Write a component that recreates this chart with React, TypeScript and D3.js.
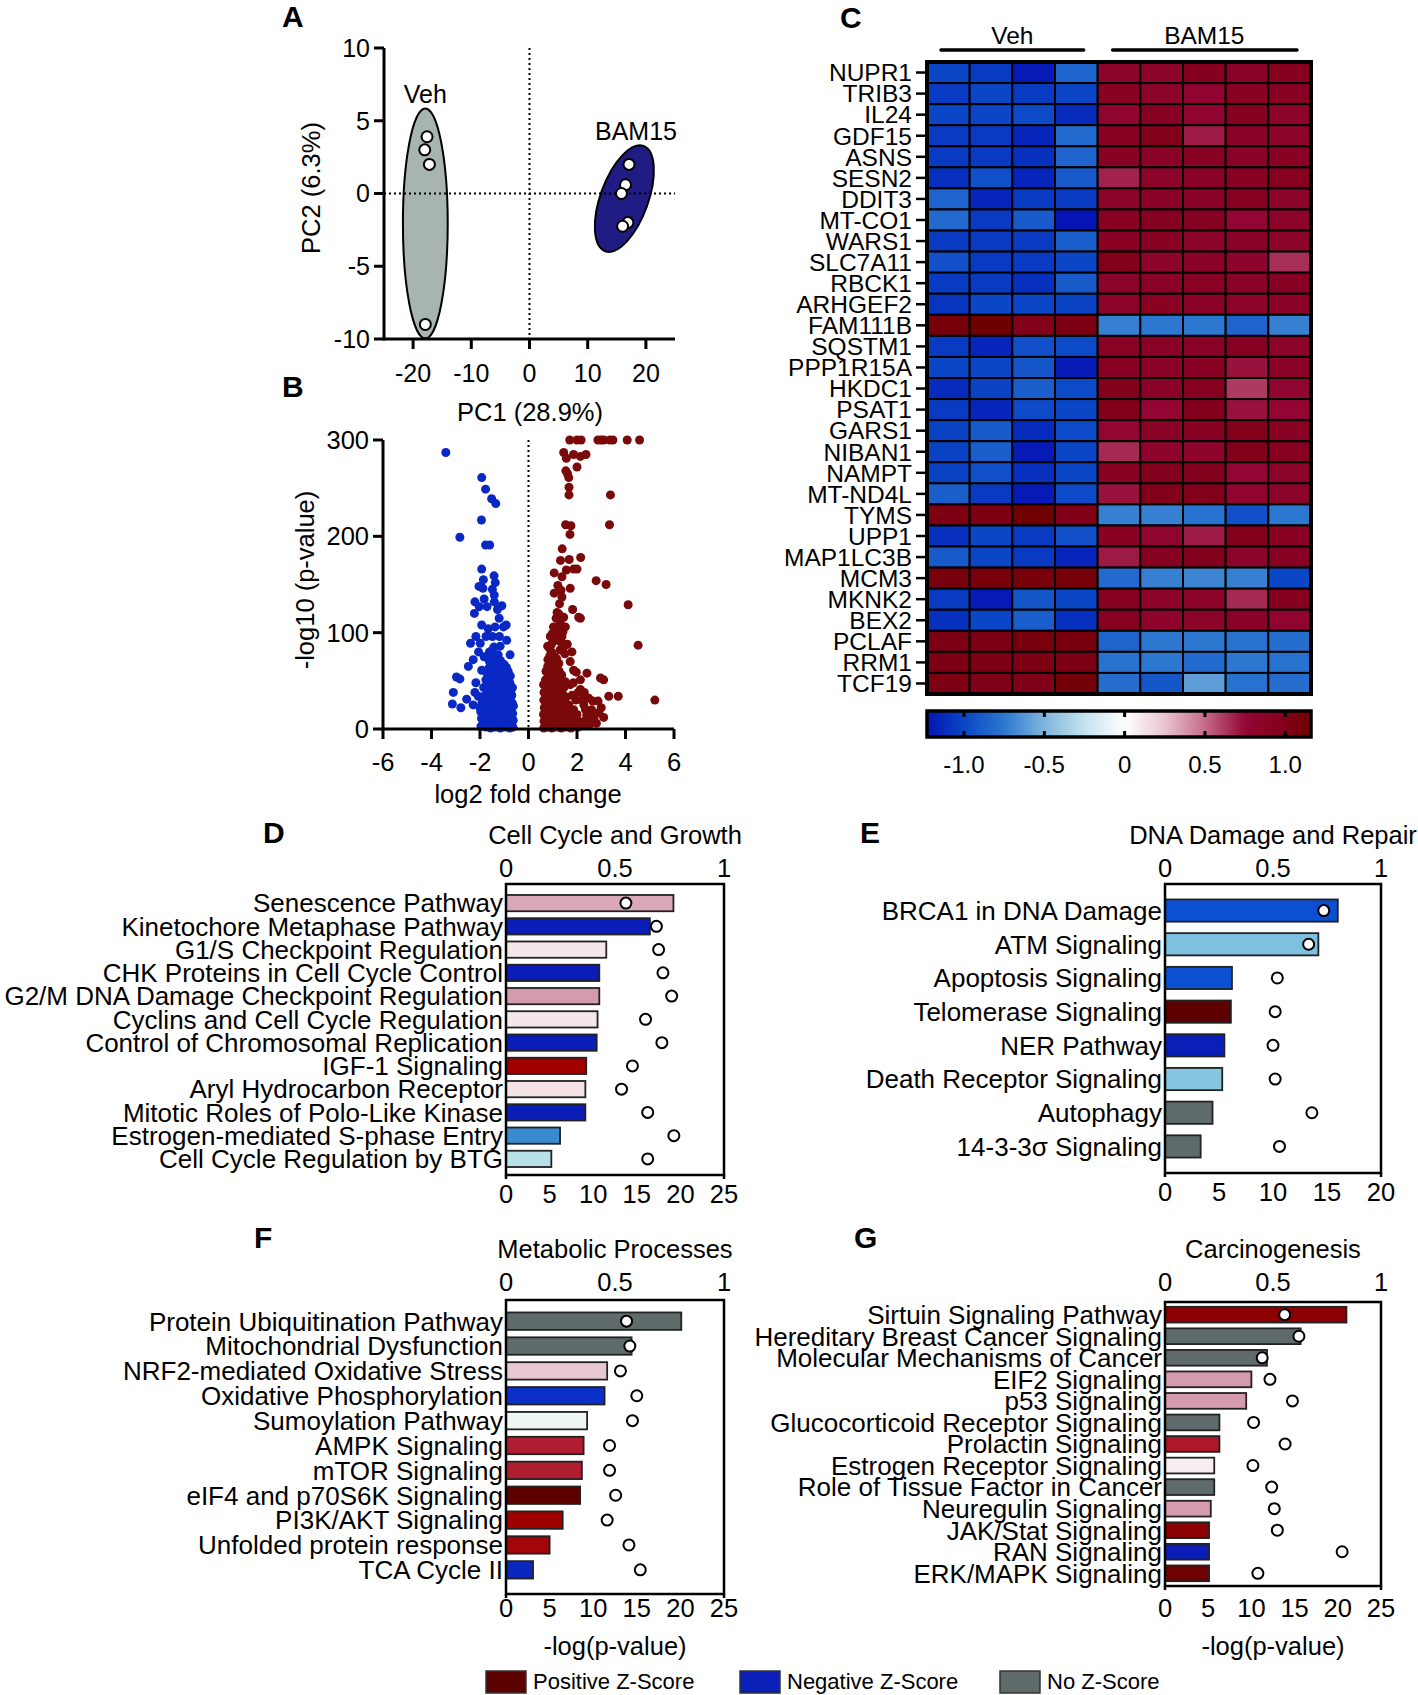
import * as d3 from 'd3';

const FONT = '"Liberation Sans", Arial, Helvetica, sans-serif';

// ---------- A: PCA ----------
const pcaVeh: [number, number][] = [[-17.6, 3.9], [-18.0, 3.0], [-17.2, 2.0], [-17.9, -9.0]];
const pcaBam: [number, number][] = [[17.1, 2.0], [16.5, 0.6], [15.8, 0.0], [16.9, -2.0], [16.0, -2.25]];
const vehEllipse = { cx: -17.9, cy: -2.06, rx: 3.85, ry: 7.9, rotate: 0 };
const bamEllipse = { cx: 16.3, cy: -0.35, rx: 4.1, ry: 3.85, rotate: 20 };
const pcaXTicks = [-20, -10, 0, 10, 20];
const pcaYTicks = [-10, -5, 0, 5, 10];

// ---------- B: volcano ----------
const volcanoDown: [number, number][] = [
  [-3.41, 287], [-1.93, 261], [-1.77, 249], [-1.52, 239], [-1.35, 234], [-1.94, 217], [-2.83, 199], [-1.77, 191],
  [-1.6, 191], [-1.93, 166], [-1.42, 159], [-1.86, 155], [-1.37, 152], [-2.04, 148], [-1.88, 146], [-1.49, 145],
  [-1.41, 139], [-2.21, 132], [-1.83, 135], [-2.03, 127], [-1.71, 127], [-1.41, 132], [-1.1, 128], [-1.28, 124],
  [-2.23, 120], [-1.21, 115], [-1.93, 108], [-1.66, 104], [-1.38, 106], [-1.03, 106], [-0.92, 108], [-2.17, 96],
  [-1.75, 96], [-1.49, 96], [-2.39, 89], [-1.99, 89], [-1.2, 96], [-0.9, 92], [-2.06, 80], [-1.61, 80], [-1.17, 86],
  [-2.28, 72], [-1.83, 75], [-0.76, 77], [-2.48, 65], [-1.93, 61], [-2.97, 54], [-2.83, 52], [-2.17, 48], [-3.1, 38],
  [-2.21, 38], [-2.55, 31], [-3.14, 26], [-2.79, 22], [-2.28, 25], [-2.07, 34], [-2.0, 22],
  [-1.96, 3], [-1.94, 11], [-1.97, 18], [-1.92, 27],
  [-1.86, 6], [-1.84, 15], [-1.87, 24], [-1.83, 34], [-1.85, 43],
  [-1.76, 2], [-1.74, 10], [-1.77, 18], [-1.73, 26], [-1.75, 34], [-1.72, 42], [-1.76, 51], [-1.74, 59],
  [-1.66, 4], [-1.64, 12], [-1.67, 21], [-1.63, 29], [-1.65, 37], [-1.62, 45], [-1.66, 53], [-1.64, 63], [-1.61, 70],
  [-1.56, 1], [-1.54, 8], [-1.57, 16], [-1.53, 25], [-1.55, 32], [-1.52, 40], [-1.56, 48], [-1.54, 57], [-1.51, 64],
  [-1.55, 73], [-1.53, 81],
  [-1.46, 3], [-1.44, 11], [-1.47, 19], [-1.43, 27], [-1.45, 36], [-1.42, 43], [-1.46, 51], [-1.44, 60], [-1.41, 67],
  [-1.45, 76], [-1.43, 85],
  [-1.36, 2], [-1.34, 9], [-1.37, 17], [-1.33, 26], [-1.35, 33], [-1.32, 41], [-1.36, 50], [-1.34, 57], [-1.31, 65], [-1.35, 74],
  [-1.26, 4], [-1.24, 12], [-1.27, 20], [-1.23, 28], [-1.25, 37], [-1.22, 44], [-1.26, 52], [-1.24, 61], [-1.21, 68], [-1.25, 77],
  [-1.16, 1], [-1.14, 8], [-1.17, 16], [-1.13, 25], [-1.15, 32], [-1.12, 40], [-1.16, 49], [-1.14, 56], [-1.11, 64], [-1.15, 71],
  [-1.06, 3], [-1.04, 11], [-1.07, 19], [-1.03, 28], [-1.05, 35], [-1.02, 43], [-1.06, 51], [-1.04, 60], [-1.01, 67],
  [-0.96, 2], [-0.94, 9], [-0.97, 17], [-0.93, 26], [-0.95, 33], [-0.92, 41], [-0.96, 49], [-0.94, 57], [-0.91, 64],
  [-0.86, 4], [-0.84, 12], [-0.87, 20], [-0.83, 28], [-0.85, 37], [-0.82, 44], [-0.86, 52], [-0.84, 60],
  [-0.77, 1], [-0.75, 8], [-0.78, 16], [-0.74, 25], [-0.76, 32], [-0.73, 40], [-0.77, 48], [-0.75, 55],
  [-0.7, 3], [-0.68, 11], [-0.71, 19], [-0.67, 27], [-0.69, 35], [-0.66, 43],
  [-0.64, 2], [-0.63, 9], [-0.65, 16], [-0.62, 24],
];

const volcanoUp: [number, number][] = [
  [1.7, 300], [2.0, 300], [2.17, 300], [2.86, 300], [2.99, 300], [3.1, 300], [3.35, 300], [3.48, 300], [4.07, 300], [4.58, 300],
  [1.45, 287], [1.56, 281], [1.86, 285], [2.14, 283], [2.37, 285], [1.54, 268], [1.61, 265], [2.0, 272], [1.66, 261], [1.67, 251],
  [1.67, 243], [3.38, 243], [1.53, 212], [1.75, 211], [3.34, 212], [1.71, 202], [1.39, 187], [1.32, 175], [1.68, 176], [2.15, 178],
  [1.56, 165], [1.86, 166], [2.0, 166], [1.06, 162], [1.38, 158], [2.79, 154], [3.2, 150], [1.21, 149], [1.34, 144], [1.72, 146],
  [1.06, 141], [1.38, 137], [1.28, 130], [4.11, 129], [1.82, 124], [1.14, 115], [1.45, 116], [2.07, 116], [2.14, 115], [1.03, 106],
  [1.31, 110], [1.52, 106], [0.9, 96], [1.38, 96], [0.79, 86], [1.48, 86], [4.52, 87], [1.79, 80], [1.72, 70], [1.86, 61],
  [1.97, 59], [2.41, 58], [2.14, 51], [2.97, 53], [3.1, 51], [1.52, 49], [1.72, 46], [2.14, 41], [2.48, 32], [2.65, 29],
  [2.87, 29], [3.31, 34], [3.7, 34], [5.21, 30], [2.28, 25], [2.9, 17], [2.55, 10], [2.0, 15], [1.86, 20], [1.66, 25],
  [1.18, 121], [1.26, 119], [1.12, 101], [1.22, 104], [0.98, 99], [1.42, 101], [1.35, 90], [1.6, 88], [1.5, 78], [1.2, 92],
  [0.95, 88], [1.3, 82],
  [0.63, 1], [0.64, 8], [0.62, 15], [0.65, 22], [0.63, 30], [0.64, 38], [0.62, 46],
  [0.71, 3], [0.72, 11], [0.7, 19], [0.73, 27], [0.71, 35], [0.72, 43], [0.7, 51], [0.72, 60],
  [0.79, 2], [0.8, 9], [0.78, 17], [0.81, 25], [0.79, 33], [0.8, 41], [0.78, 49], [0.81, 57], [0.79, 65], [0.8, 72],
  [0.87, 4], [0.88, 12], [0.86, 20], [0.89, 28], [0.87, 36], [0.88, 44], [0.86, 52], [0.89, 60], [0.87, 68], [0.88, 76], [0.86, 84],
  [0.96, 1], [0.97, 8], [0.95, 16], [0.98, 24], [0.96, 32], [0.97, 40], [0.95, 48], [0.98, 56], [0.96, 64], [0.97, 72], [0.95, 80],
  [1.05, 3], [1.06, 11], [1.04, 19], [1.07, 27], [1.05, 35], [1.06, 43], [1.04, 51], [1.07, 59], [1.05, 67], [1.06, 75],
  [1.15, 2], [1.16, 9], [1.14, 17], [1.17, 25], [1.15, 33], [1.16, 41], [1.14, 49], [1.17, 57], [1.15, 65], [1.16, 73],
  [1.25, 4], [1.26, 12], [1.24, 20], [1.27, 28], [1.25, 36], [1.26, 44], [1.24, 52], [1.27, 60], [1.25, 68],
  [1.35, 1], [1.36, 8], [1.34, 16], [1.37, 24], [1.35, 32], [1.36, 40], [1.34, 48], [1.37, 56],
  [1.45, 3], [1.46, 11], [1.44, 19], [1.47, 27], [1.45, 35], [1.46, 43],
  [1.55, 2], [1.56, 9], [1.54, 17], [1.57, 25], [1.55, 33],
  [1.65, 4], [1.66, 12], [1.64, 20],
  [1.75, 1], [1.76, 8], [1.74, 15],
  [1.9, 3], [1.91, 10], [2.05, 2], [2.06, 8], [2.2, 4],
  [2.3, 8], [2.4, 14], [2.6, 20], [2.7, 12], [2.35, 20], [2.5, 4], [2.8, 6], [3.0, 22], [3.1, 12], [2.2, 30],
  [2.3, 38], [1.95, 30], [2.05, 38], [1.8, 35], [1.85, 48],
];
const volXTicks = [-6, -4, -2, 0, 2, 4, 6];
const volYTicks = [0, 100, 200, 300];

// ---------- C: heatmap ----------
const genes = ['NUPR1', 'TRIB3', 'IL24', 'GDF15', 'ASNS', 'SESN2', 'DDIT3', 'MT-CO1', 'WARS1', 'SLC7A11', 'RBCK1',
  'ARHGEF2', 'FAM111B', 'SQSTM1', 'PPP1R15A', 'HKDC1', 'PSAT1', 'GARS1', 'NIBAN1', 'NAMPT', 'MT-ND4L', 'TYMS', 'UPP1',
  'MAP1LC3B', 'MCM3', 'MKNK2', 'BEX2', 'PCLAF', 'RRM1', 'TCF19'];
const vehSamples = ['V1', 'V2', 'V3', 'V4'];
const bamSamples = ['B1', 'B2', 'B3', 'B4', 'B5'];
const vehZ = [
  [-1.0, -1.05, -1.2, -0.85], [-1.05, -1.0, -1.05, -1.0], [-1.0, -1.0, -0.98, -1.12], [-1.05, -1.05, -1.15, -0.82],
  [-1.05, -1.05, -1.1, -0.85], [-1.1, -0.95, -1.15, -0.9], [-0.85, -1.15, -1.05, -1.05], [-0.82, -1.05, -0.9, -1.25],
  [-1.05, -1.05, -1.05, -0.88], [-0.95, -1.05, -1.05, -1.0], [-1.05, -1.05, -1.1, -0.9], [-1.08, -1.0, -1.0, -1.02],
  [1.1, 1.15, 1.0, 1.05], [-1.05, -1.15, -0.95, -0.98], [-1.0, -1.0, -0.92, -1.2], [-1.12, -1.02, -0.88, -0.98],
  [-1.05, -1.15, -0.98, -1.0], [-1.02, -0.9, -1.12, -0.98], [-1.02, -0.88, -1.2, -1.0], [-1.02, -0.95, -1.1, -1.0],
  [-0.88, -1.05, -1.2, -0.98], [1.05, 1.05, 1.15, 1.02], [-1.1, -1.0, -1.05, -0.95], [-0.9, -1.0, -1.05, -1.15],
  [1.08, 1.08, 1.08, 1.1], [-1.05, -1.2, -0.92, -1.0], [-1.1, -1.0, -0.88, -1.1], [1.05, 1.05, 1.08, 1.08],
  [1.05, 1.05, 1.05, 1.05], [1.05, 1.02, 1.02, 1.12],
];
const bamZ = [
  [0.85, 0.85, 0.95, 0.88, 0.95], [0.9, 0.85, 0.8, 0.9, 0.92], [0.8, 0.92, 0.8, 0.95, 0.85], [0.9, 1.0, 0.7, 0.88, 0.85],
  [0.9, 0.88, 0.9, 0.88, 0.9], [0.68, 0.85, 0.88, 0.9, 0.95], [0.85, 0.88, 0.88, 0.92, 0.85], [0.9, 0.95, 0.92, 0.75, 0.85],
  [0.9, 0.9, 0.85, 0.88, 0.85], [1.0, 0.85, 0.88, 0.82, 0.65], [0.85, 0.88, 0.9, 0.88, 0.92], [0.85, 0.9, 0.88, 0.85, 0.88],
  [-0.72, -0.75, -0.75, -0.85, -0.72], [0.9, 0.88, 0.88, 0.92, 0.85], [0.92, 0.88, 0.9, 0.72, 0.88], [1.0, 0.88, 0.95, 0.62, 0.78],
  [1.0, 0.75, 0.98, 0.72, 0.75], [0.75, 0.88, 0.9, 1.0, 0.9], [0.66, 0.82, 0.82, 1.0, 0.95], [0.9, 0.98, 0.98, 0.75, 0.85],
  [0.72, 1.0, 1.0, 0.8, 0.85], [-0.72, -0.72, -0.78, -0.95, -0.75], [0.9, 0.8, 0.7, 0.98, 0.9], [0.7, 0.95, 0.98, 0.85, 0.92],
  [-0.82, -0.72, -0.7, -0.72, -1.0], [0.92, 0.85, 0.85, 0.66, 0.95], [0.95, 0.82, 0.85, 0.88, 0.8], [-0.85, -0.75, -0.75, -0.78, -0.8],
  [-0.78, -0.75, -0.82, -0.75, -0.78], [-0.8, -0.92, -0.6, -0.78, -0.8],
];
const heatTicks = [-1.0, -0.5, 0, 0.5, 1.0];
const heatTickLabels = ['-1.0', '-0.5', '0', '0.5', '1.0'];

// ---------- D-G: pathway enrichment ----------
const dLabels = ['Senescence Pathway', 'Kinetochore Metaphase Pathway', 'G1/S Checkpoint Regulation',
  'CHK Proteins in Cell Cycle Control', 'G2/M DNA Damage Checkpoint Regulation', 'Cyclins and Cell Cycle Regulation',
  'Control of Chromosomal Replication', 'IGF-1 Signaling', 'Aryl Hydrocarbon Receptor', 'Mitotic Roles of Polo-Like Kinase',
  'Estrogen-mediated S-phase Entry', 'Cell Cycle Regulation by BTG'];
const dLogP = [19.2, 16.5, 11.5, 10.7, 10.7, 10.5, 10.4, 9.2, 9.1, 9.1, 6.2, 5.2];
const dRatio = [0.55, 0.69, 0.7, 0.72, 0.76, 0.64, 0.715, 0.58, 0.53, 0.65, 0.77, 0.65];
const dZ: (number | null)[] = [1.2, -3.5, 0.3, -3.5, 1.3, 0.3, -3.5, 2.6, 0.35, -3.5, -2.2, -1.0];

const eLabels = ['BRCA1 in DNA Damage', 'ATM Signaling', 'Apoptosis Signaling', 'Telomerase Signaling', 'NER Pathway',
  'Death Receptor Signaling', 'Autophagy', '14-3-3σ Signaling'];
const eLogP = [16.0, 14.2, 6.2, 6.1, 5.5, 5.3, 4.4, 3.3];
const eRatio = [0.735, 0.665, 0.52, 0.51, 0.5, 0.51, 0.68, 0.53];
const eZ: (number | null)[] = [-2.6, -1.6, -2.6, 3.8, -3.4, -1.5, null, null];

const fLabels = ['Protein Ubiquitination Pathway', 'Mitochondrial Dysfunction', 'NRF2-mediated Oxidative Stress',
  'Oxidative Phosphorylation', 'Sumoylation Pathway', 'AMPK Signaling', 'mTOR Signaling', 'eIF4 and p70S6K Signaling',
  'PI3K/AKT Signaling', 'Unfolded protein response', 'TCA Cycle II'];
const fLogP = [20.1, 14.4, 11.6, 11.3, 9.3, 8.9, 8.7, 8.5, 6.5, 5.0, 3.1];
const fRatio = [0.553, 0.568, 0.525, 0.6, 0.58, 0.475, 0.475, 0.503, 0.464, 0.564, 0.616];
const fZ: (number | null)[] = [null, null, 0.9, -3.0, -0.3, 2.0, 2.0, 3.8, 2.6, 2.5, -3.2];

const gLabels = ['Sirtuin Signaling Pathway', 'Hereditary Breast Cancer Signaling', 'Molecular Mechanisms of Cancer',
  'EIF2 Signaling', 'p53 Signaling', 'Glucocorticoid Receptor Signaling', 'Prolactin Signaling',
  'Estrogen Receptor Signaling', 'Role of Tissue Factor in Cancer', 'Neuregulin Signaling', 'JAK/Stat Signaling',
  'RAN Signaling', 'ERK/MAPK Signaling'];
const gLogP = [21.0, 15.7, 11.8, 10.0, 9.4, 6.3, 6.3, 5.7, 5.7, 5.3, 5.1, 5.1, 5.1];
const gRatio = [0.554, 0.62, 0.45, 0.486, 0.59, 0.41, 0.556, 0.407, 0.494, 0.506, 0.52, 0.82, 0.43];
const gZ: (number | null)[] = [3.0, null, null, 1.3, 1.3, null, 2.1, 0.2, null, 1.3, 3.0, -3.6, 3.6];

const ratioTicks = [0, 0.5, 1];
const legendItems: { label: string; z: number | null }[] = [
  { label: 'Positive Z-Score', z: 3.8 },
  { label: 'Negative Z-Score', z: -3.4 },
  { label: 'No Z-Score', z: null },
];

// colour scales
const heatColor = d3.scaleLinear<string>()
  .domain([-1.23, -1.0, -0.75, -0.5, -0.25, 0, 0.25, 0.5, 0.75, 1.0, 1.16])
  .range(['#0514b4', '#0a46c6', '#2c78d0', '#7fb6dc', '#c4e2ee', '#ffffff', '#e8c4d0', '#c46a8a', '#930634', '#82001a', '#6e0000'])
  .clamp(true);

const zScale = d3.scaleLinear<string>()
  .domain([-4, -3.4, -3.0, -2.6, -2.2, -1.6, -1.0, -0.3, 0, 0.3, 0.9, 1.25, 2.0, 2.6, 3.0, 3.6, 3.8])
  .range(['#0a1ab4', '#0a1fb8', '#0a30c8', '#0a50d0', '#3a8ad0', '#7ec0e0', '#b8e0e8', '#eef6f4', '#ffffff',
    '#f5e6ea', '#e8c8d0', '#d6a4b6', '#b01c30', '#a00000', '#8b0000', '#700000', '#5c0000'])
  .clamp(true);
const zColor = (z: number | null) => (z === null ? '#5f6b6b' : zScale(z));

const PanelLetter = ({ x, y, t }: { x: number; y: number; t: string }) => (
  <text x={x} y={y} fontSize={30} fontWeight="bold" fontFamily={FONT}>{t}</text>
);

const PcaPanel = () => {
  const x = d3.scaleLinear().domain([-25, 25]).range([384, 675]);
  const y = d3.scaleLinear().domain([-10, 10]).range([339, 48]);
  const ell = (e: typeof vehEllipse, fill: string) => {
    const cx = x(e.cx);
    const cy = y(e.cy);
    const rx = x(e.cx + e.rx) - cx;
    const ry = cy - y(e.cy + e.ry);
    return <ellipse cx={cx} cy={cy} rx={rx} ry={ry} transform={`rotate(${e.rotate},${cx},${cy})`}
      fill={fill} stroke="#000" strokeWidth={2} />;
  };
  return (
    <g fontFamily={FONT}>
      <PanelLetter x={282} y={27} t="A" />
      {ell(vehEllipse, '#a7b4af')}
      {ell(bamEllipse, '#211c84')}
      <line x1={x(0)} x2={x(0)} y1={y(10)} y2={y(-10)} stroke="#000" strokeWidth={2} strokeDasharray="2,3" />
      <line x1={x(-25)} x2={x(25)} y1={y(0)} y2={y(0)} stroke="#000" strokeWidth={2} strokeDasharray="2,3" />
      {[...pcaVeh, ...pcaBam].map((p, i) => (
        <circle key={i} cx={x(p[0])} cy={y(p[1])} r={5.5} fill="#fff" stroke="#000" strokeWidth={2} />
      ))}
      <line x1={x(-25)} x2={x(-25)} y1={y(10)} y2={y(-10) + 1.5} stroke="#000" strokeWidth={3} />
      <line x1={x(-25)} x2={x(25)} y1={y(-10)} y2={y(-10)} stroke="#000" strokeWidth={3} />
      {pcaYTicks.map((t) => (
        <g key={t}>
          <line x1={x(-25) - 10} x2={x(-25)} y1={y(t)} y2={y(t)} stroke="#000" strokeWidth={3} />
          <text x={x(-25) - 14} y={y(t)} dy="0.35em" textAnchor="end" fontSize={25}>{t}</text>
        </g>
      ))}
      {pcaXTicks.map((t) => (
        <g key={t}>
          <line x1={x(t)} x2={x(t)} y1={y(-10)} y2={y(-10) + 10} stroke="#000" strokeWidth={3} />
          <text x={x(t)} y={382} textAnchor="middle" fontSize={25}>{t}</text>
        </g>
      ))}
      <text x={x(-17.9)} y={103} textAnchor="middle" fontSize={25}>Veh</text>
      <text x={x(18.3)} y={140} textAnchor="middle" fontSize={25}>BAM15</text>
      <text transform="translate(311,188) rotate(-90)" textAnchor="middle" dy="0.35em" fontSize={25.5}>PC2 (6.3%)</text>
      <text x={530} y={421} textAnchor="middle" fontSize={25.5}>PC1 (28.9%)</text>
    </g>
  );
};

const VolcanoPanel = () => {
  const x = d3.scaleLinear().domain([-6, 6]).range([383, 674]);
  const y = d3.scaleLinear().domain([0, 300]).range([729, 440]);
  return (
    <g fontFamily={FONT}>
      <PanelLetter x={282} y={397} t="B" />
      <line x1={x(0)} x2={x(0)} y1={y(300)} y2={y(0)} stroke="#000" strokeWidth={2} strokeDasharray="2,3" />
      {volcanoDown.map((p, i) => (
        <circle key={'d' + i} cx={x(p[0])} cy={y(p[1])} r={4.5} fill="#0a28c4" />
      ))}
      {volcanoUp.map((p, i) => (
        <circle key={'u' + i} cx={x(p[0])} cy={y(p[1])} r={4.5} fill="#7a0a0a" />
      ))}
      <line x1={x(-6)} x2={x(-6)} y1={y(300)} y2={y(0) + 1.5} stroke="#000" strokeWidth={3} />
      <line x1={x(-6)} x2={x(6)} y1={y(0)} y2={y(0)} stroke="#000" strokeWidth={3} />
      {volYTicks.map((t) => (
        <g key={t}>
          <line x1={x(-6) - 10} x2={x(-6)} y1={y(t)} y2={y(t)} stroke="#000" strokeWidth={3} />
          <text x={x(-6) - 14} y={y(t)} dy="0.35em" textAnchor="end" fontSize={25.5}>{t}</text>
        </g>
      ))}
      {volXTicks.map((t) => (
        <g key={t}>
          <line x1={x(t)} x2={x(t)} y1={y(0)} y2={y(0) + 10} stroke="#000" strokeWidth={3} />
          <text x={x(t)} y={771} textAnchor="middle" fontSize={25.5}>{t}</text>
        </g>
      ))}
      <text transform="translate(305,580) rotate(-90)" textAnchor="middle" dy="0.35em" fontSize={25.5}>-log10 (p-value)</text>
      <text x={528} y={803} textAnchor="middle" fontSize={25.5}>log2 fold change</text>
    </g>
  );
};

const HeatmapPanel = () => {
  const samples = [...vehSamples, ...bamSamples];
  const x = d3.scaleBand<string>().domain(samples).range([927, 1311]);
  const y = d3.scaleBand<string>().domain(genes).range([62, 694]);
  const cb = d3.scaleLinear().domain([-1.23, 1.16]).range([927, 1311]);
  const bw = x.bandwidth();
  const stops = d3.range(0, 1.0001, 0.02);
  return (
    <g fontFamily={FONT}>
      <defs>
        <linearGradient id="heatgrad" x1="0" x2="1" y1="0" y2="0">
          {stops.map((s) => (
            <stop key={s} offset={s} stopColor={heatColor(-1.23 + s * (1.16 + 1.23))} />
          ))}
        </linearGradient>
      </defs>
      <PanelLetter x={840} y={28} t="C" />
      <text x={(x('V1')! + x('V4')! + bw) / 2} y={44} textAnchor="middle" fontSize={24.5}>Veh</text>
      <text x={(x('B1')! + x('B5')! + bw) / 2} y={44} textAnchor="middle" fontSize={24.5}>BAM15</text>
      <line x1={x('V1')! + 14} x2={x('V4')! + bw - 14} y1={50} y2={50} stroke="#000" strokeWidth={3.5} strokeLinecap="round" />
      <line x1={x('B1')! + 15} x2={x('B5')! + bw - 14} y1={50} y2={50} stroke="#000" strokeWidth={3.5} strokeLinecap="round" />
      {genes.map((g, gi) => (
        <g key={g}>
          {vehSamples.map((s, si) => (
            <rect key={s} x={x(s)} y={y(g)} width={bw} height={y.bandwidth()} fill={heatColor(vehZ[gi][si])}
              stroke="#000" strokeWidth={2} />
          ))}
          {bamSamples.map((s, si) => (
            <rect key={s} x={x(s)} y={y(g)} width={bw} height={y.bandwidth()} fill={heatColor(bamZ[gi][si])}
              stroke="#000" strokeWidth={2} />
          ))}
          <line x1={916} x2={927} y1={y(g)! + y.bandwidth() / 2} y2={y(g)! + y.bandwidth() / 2} stroke="#000" strokeWidth={2.5} />
          <text x={912} y={y(g)! + y.bandwidth() / 2} dy="0.36em" textAnchor="end" fontSize={24.5}>{g}</text>
        </g>
      ))}
      <rect x={927} y={62} width={1311 - 927} height={694 - 62} fill="none" stroke="#000" strokeWidth={4} />
      <rect x={927} y={711} width={1311 - 927} height={26} fill="url(#heatgrad)" stroke="#000" strokeWidth={3.5} />
      {heatTicks.map((t, i) => (
        <g key={t}>
          <line x1={cb(t)} x2={cb(t)} y1={711} y2={717} stroke="#000" strokeWidth={3} />
          <line x1={cb(t)} x2={cb(t)} y1={731} y2={737} stroke="#000" strokeWidth={3} />
          <text x={cb(t)} y={773} textAnchor="middle" fontSize={24}>{heatTickLabels[i]}</text>
        </g>
      ))}
    </g>
  );
};

interface PathwayProps {
  letter: string;
  letterX: number;
  letterY: number;
  title: string;
  labels: string[];
  logP: number[];
  ratio: number[];
  z: (number | null)[];
  pMax: number;
  left: number;
  right: number;
  top: number;
  bottom: number;
  bandTop: number;
  bandBottom: number;
  padding: number;
  titleY: number;
  topLabelY: number;
  bottomLabelY: number;
  xLabelY?: number;
}

const PathwayPanel = (p: PathwayProps) => {
  const x = d3.scaleLinear().domain([0, p.pMax]).range([p.left, p.right]);
  const xr = d3.scaleLinear().domain([0, 1]).range([p.left, p.right]);
  const y = d3.scaleBand<string>().domain(p.labels).range([p.bandTop, p.bandBottom]).padding(p.padding);
  const pTicks = d3.range(0, p.pMax + 1, 5);
  const cx = (p.left + p.right) / 2;
  return (
    <g fontFamily={FONT}>
      <PanelLetter x={p.letterX} y={p.letterY} t={p.letter} />
      <text x={cx} y={p.titleY} textAnchor="middle" fontSize={25.5}>{p.title}</text>
      {ratioTicks.map((t) => (
        <text key={t} x={xr(t)} y={p.topLabelY} textAnchor="middle" fontSize={25.5}>{t}</text>
      ))}
      {pTicks.map((t) => (
        <text key={t} x={x(t)} y={p.bottomLabelY} textAnchor="middle" fontSize={25.5}>{t}</text>
      ))}
      {p.labels.map((l, i) => (
        <g key={l}>
          <rect x={x(0)} y={y(l)} width={x(p.logP[i]) - x(0)} height={y.bandwidth()} fill={zColor(p.z[i])}
            stroke="#222" strokeWidth={1.8} />
          <text x={p.left - 3} y={y(l)! + y.bandwidth() / 2} dy="0.36em" textAnchor="end" fontSize={26}>{l}</text>
        </g>
      ))}
      {p.labels.map((l, i) => (
        <circle key={l} cx={xr(p.ratio[i])} cy={y(l)! + y.bandwidth() / 2} r={5.5} fill="#fff" stroke="#000" strokeWidth={2} />
      ))}
      <rect x={p.left} y={p.top} width={p.right - p.left} height={p.bottom - p.top} fill="none" stroke="#000" strokeWidth={2.5} />
      <line x1={p.left} x2={p.left} y1={p.bottom} y2={p.bottom + 4} stroke="#000" strokeWidth={2.5} />
      <line x1={p.right} x2={p.right} y1={p.bottom} y2={p.bottom + 4} stroke="#000" strokeWidth={2.5} />
      {p.xLabelY !== undefined && (
        <text x={cx} y={p.xLabelY} textAnchor="middle" fontSize={25.5}>-log(p-value)</text>
      )}
    </g>
  );
};

const Legend = () => {
  const xs = d3.scalePoint<string>().domain(legendItems.map((d) => d.label)).range([486, 1000]);
  return (
    <g fontFamily={FONT}>
      {legendItems.map((d, i) => {
        const sx = i === 1 ? 740 : xs(d.label)!;
        return (
          <g key={d.label}>
            <rect x={sx} y={1671} width={40} height={22} fill={zColor(d.z)} stroke="#333" strokeWidth={1.5} />
            <text x={sx + 47} y={1689} fontSize={22}>{d.label}</text>
          </g>
        );
      })}
    </g>
  );
};

export default function App() {
  return (
    <svg width={1418} height={1695} style={{ position: 'absolute', left: 0, top: 0, background: '#fff' }}>
      <rect width={1418} height={1695} fill="#fff" />
      <PcaPanel />
      <VolcanoPanel />
      <HeatmapPanel />
      <PathwayPanel letter="D" letterX={263} letterY={843} title="Cell Cycle and Growth" labels={dLabels} logP={dLogP}
        ratio={dRatio} z={dZ} pMax={25} left={506} right={724} top={884} bottom={1175} bandTop={888} bandBottom={1174}
        padding={0.3} titleY={844} topLabelY={877} bottomLabelY={1203} />
      <PathwayPanel letter="E" letterX={860} letterY={843} title="DNA Damage and Repair" labels={eLabels} logP={eLogP}
        ratio={eRatio} z={eZ} pMax={20} left={1165} right={1381} top={884} bottom={1173} bandTop={888} bandBottom={1169}
        padding={0.34} titleY={844} topLabelY={877} bottomLabelY={1201} />
      <PathwayPanel letter="F" letterX={254} letterY={1248} title="Metabolic Processes" labels={fLabels} logP={fLogP}
        ratio={fRatio} z={fZ} pMax={25} left={506} right={724} top={1300} bottom={1594} bandTop={1305} bandBottom={1586}
        padding={0.3} titleY={1258} topLabelY={1291} bottomLabelY={1617} xLabelY={1655} />
      <PathwayPanel letter="G" letterX={854} letterY={1248} title="Carcinogenesis" labels={gLabels} logP={gLogP}
        ratio={gRatio} z={gZ} pMax={25} left={1165} right={1381} top={1302} bottom={1586} bandTop={1301} bandBottom={1587}
        padding={0.27} titleY={1258} topLabelY={1291} bottomLabelY={1617} xLabelY={1655} />
      <Legend />
    </svg>
  );
}
